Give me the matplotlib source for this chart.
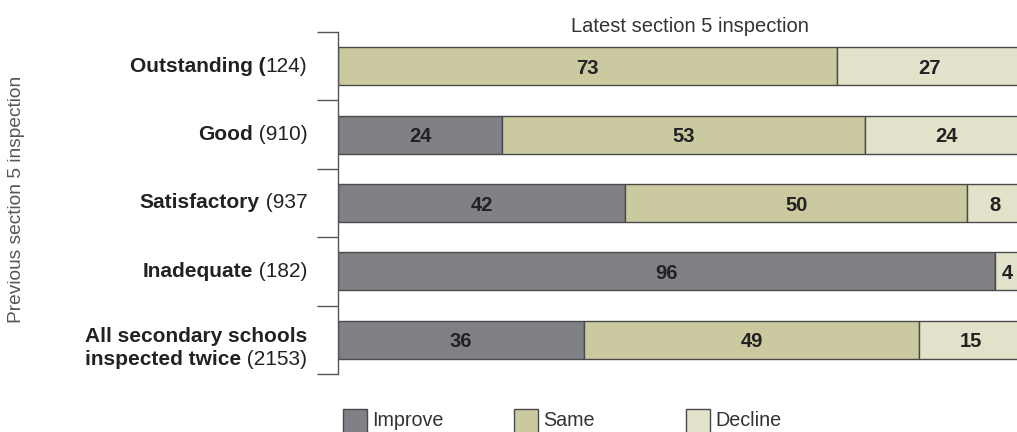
import matplotlib
matplotlib.use('Agg')
import matplotlib.pyplot as plt
import numpy as np
from matplotlib.patches import Rectangle

plt.rcParams['font.family'] = ['Liberation Sans', 'DejaVu Sans']

# category labels: bold part, regular part (as printed)
bold_parts = ['Outstanding (', 'Good', 'Satisfactory', 'Inadequate', 'All secondary schools\ninspected twice']
reg_parts = ['124)', ' (910)', ' (937', ' (182)', ' (2153)']

series = ['Improve', 'Same', 'Decline']
improve = [0, 24, 42, 96, 36]
same = [73, 53, 50, 0, 49]
decline = [27, 24, 8, 4, 15]

colors = ['#808186', '#cbc9a0', '#e2e1ca']
edge = '#4a4a4a'
txt = '#222222'

W, H = 1017, 432
fig = plt.figure(figsize=(W / 100, H / 100), dpi=100)
# axes right edge runs slightly past the figure, as in the reference (clipped)
ax_l, ax_r, ax_t, ax_b = 338, 1022, 32, 374
ax = fig.add_axes([ax_l / W, 1 - ax_b / H, (ax_r - ax_l) / W, (ax_b - ax_t) / H])

y = np.arange(len(bold_parts))
left = np.zeros(len(y))
for name, vals, c in zip(series, [improve, same, decline], colors):
    vals = np.array(vals, dtype=float)
    ax.barh(y, vals, left=left, height=0.555, color=c, edgecolor=edge,
            linewidth=1.0, label=name)
    for yi, v, l in zip(y, vals, left):
        if v > 0:
            xc = l + v / 2 if v > 5 else l + 1.8
            ax.text(xc, yi + 0.03, f'{int(v)}', ha='center', va='center',
                    fontsize=14.5, fontweight='bold', color=txt)
    left += vals

ax.set_xlim(0, 100)
ax.set_ylim(len(y) - 0.5, -0.5)
for s in ['top', 'right', 'bottom']:
    ax.spines[s].set_visible(False)
ax.spines['left'].set_color('#555555')
ax.spines['left'].set_linewidth(1.0)
ax.set_xticks([])
ax.set_yticks(np.arange(len(y) + 1) - 0.5)
ax.set_yticklabels([])
ax.tick_params(axis='y', length=15, width=1.0, color='#555555')

# category labels: regular part right-aligned, bold part just before it
fs = 15
for yi, b, r in zip(y, bold_parts, reg_parts):
    lines = b.split('\n')
    yy = yi + (0.29 if len(lines) > 1 else 0.0)
    rt = ax.text(-0.045, yy, r, transform=ax.get_yaxis_transform(), ha='right',
                 va='center', fontsize=fs, color=txt)
    ax.annotate(lines[-1], xy=(0, 0.5), xycoords=rt, ha='right', va='center',
                fontsize=fs, fontweight='bold', color=txt)
    if len(lines) > 1:
        ax.text(-0.045, yy - 0.34, lines[0], transform=ax.get_yaxis_transform(),
                ha='right', va='center', fontsize=fs, fontweight='bold', color=txt)

fig.text(690 / W, 1 - 27 / H, 'Latest section 5 inspection', ha='center', va='center',
         fontsize=14.5, color='#333333')
fig.text(17 / W, 1 - 199 / H, 'Previous section 5 inspection', ha='center', va='center',
         rotation=90, fontsize=13.8, color='#555555')

# legend
leg_x = [343, 514, 686]
for x0, name, c in zip(leg_x, series, colors):
    fig.add_artist(Rectangle((x0 / W, 1 - 434 / H), 24 / W, 25 / H, transform=fig.transFigure,
                             facecolor=c, edgecolor=edge, linewidth=1.0))
    fig.text((x0 + 29) / W, 1 - 421 / H, name, ha='left', va='center',
             fontsize=14.2, color='#333333')

fig.savefig('out.png', dpi=100)
